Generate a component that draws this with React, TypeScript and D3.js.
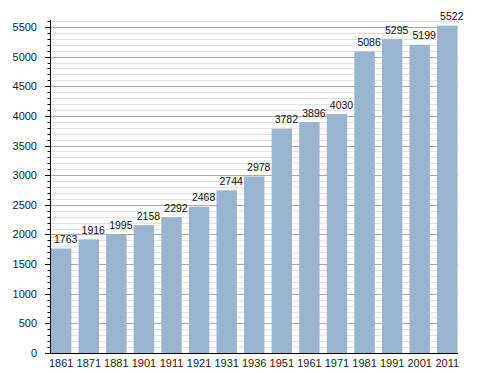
import * as d3 from "d3"

const years = ["1861", "1871", "1881", "1901", "1911", "1921", "1931", "1936", "1951", "1961", "1971", "1981", "1991", "2001", "2011"]
const population = [1763, 1916, 1995, 2158, 2292, 2468, 2744, 2978, 3782, 3896, 4030, 5086, 5295, 5199, 5522]
const yTicks = [0, 500, 1000, 1500, 2000, 2500, 3000, 3500, 4000, 4500, 5000, 5500]

export default function App() {
  const width = 488
  const height = 373
  const left = 50
  const right = 458
  const bottom = 353
  const top = 21

  const x = d3.scaleBand<string>().domain(years).range([left + 1, right - 0.5]).paddingInner(0.26).paddingOuter(0)
  const y = d3.scaleLinear().domain([0, 5600]).range([bottom, top])
  const minor = d3.range(0, 5601, 100)

  return (
    <svg width={width} height={height} style={{position: "absolute", left: 0, top: 0, background: "#fff"}}
      fontFamily="'Liberation Sans', Arial, sans-serif">
      {/* grid */}
      {minor.map((v) => (
        <line key={"g" + v} x1={left} x2={right} y1={Math.round(y(v)) + 0.5} y2={Math.round(y(v)) + 0.5}
          stroke={v % 500 === 0 ? "#aaaaaa" : "#e2e2e2"} strokeWidth={1} />
      ))}
      {/* bars */}
      {years.map((yr, i) => (
        <rect key={yr} x={x(yr)} width={x.bandwidth()} y={y(population[i])} height={bottom - y(population[i])} fill="#9ab3cf" />
      ))}
      {/* value labels, drawn a little right of the bar centre */}
      {years.map((yr, i) => (
        <text key={"l" + yr} x={x(yr)! + x.bandwidth() / 2 + 4.5} y={y(population[i]) - 5.5} textAnchor="middle"
          fontSize={10.5} fill="#111">
          {population[i]}
        </text>
      ))}
      {/* y axis */}
      <line x1={left + 0.5} x2={left + 0.5} y1={top - 1} y2={bottom} stroke="#000" />
      {minor.map((v) => (
        <line key={"t" + v} x1={v % 500 === 0 ? left - 5 : left - 2.5} x2={left} y1={Math.round(y(v)) + 0.5} y2={Math.round(y(v)) + 0.5} stroke="#000" />
      ))}
      {yTicks.map((v) => (
        <text key={"y" + v} x={37} y={y(v) + 4} textAnchor="end" fontSize={11} fill="#222">{v}</text>
      ))}
      {/* x axis */}
      <line x1={left} x2={right} y1={bottom + 0.5} y2={bottom + 0.5} stroke="#000" />
      {years.map((yr) => (
        <text key={"x" + yr} x={x(yr)! + x.bandwidth() / 2} y={bottom + 14} textAnchor="middle" fontSize={11} fill="#222">{yr}</text>
      ))}
    </svg>
  )
}
